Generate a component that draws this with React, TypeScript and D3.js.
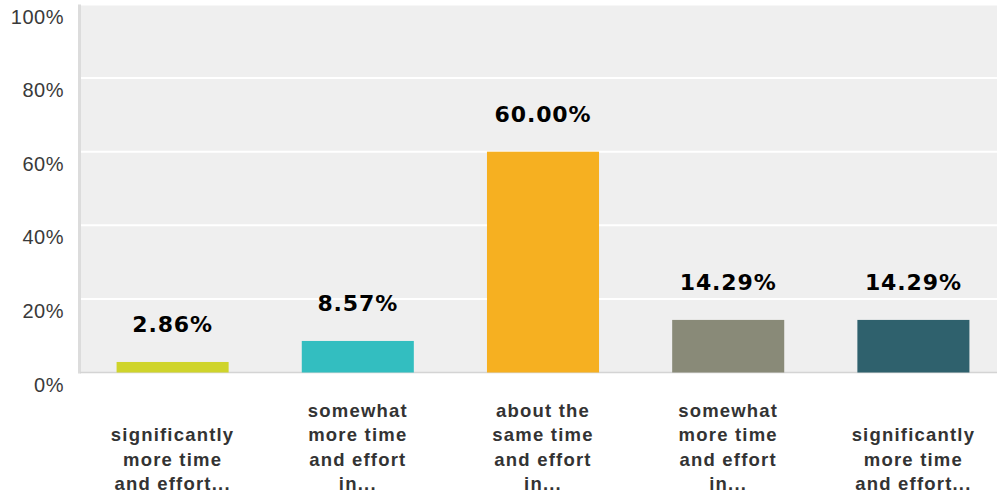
import React from "react";
import * as d3 from "d3";

const categories: string[][] = [
  ["significantly", "more time", "and effort..."],
  ["somewhat", "more time", "and effort", "in..."],
  ["about the", "same time", "and effort", "in..."],
  ["somewhat", "more time", "and effort", "in..."],
  ["significantly", "more time", "and effort..."],
];
const values: number[] = [2.86, 8.57, 60.0, 14.29, 14.29];
const colors: string[] = ["#cfd42b", "#33bec0", "#f6b021", "#898a78", "#2f616d"];
const yTicks: number[] = [0, 20, 40, 60, 80, 100];

const W = 997;
const H = 494;
const left = 80;
const top = 4.5;
const bottom = 372.5;

export default function App() {
  const x = d3
    .scaleBand<number>()
    .domain(values.map((_, i) => i))
    .range([left, left + 926])
    .paddingInner(0.395)
    .paddingOuter(0.1975);
  const y = d3.scaleLinear().domain([0, 100]).range([bottom, top]);

  return (
    <svg
      width={W}
      height={H}
      style={{ position: "absolute", left: 0, top: 0, background: "#fff" }}
    >
      <rect x={left} y={top} width={W - left} height={bottom - top} fill="#efefef" />
      {yTicks.slice(1).map((t) => (
        <line key={t} x1={left} x2={W} y1={y(t)} y2={y(t)} stroke="#fff" strokeWidth={2} />
      ))}
      <line x1={left - 0.5} x2={left - 0.5} y1={top} y2={bottom + 1} stroke="#dcdcdc" strokeWidth={3} />
      <line x1={left} x2={W} y1={bottom} y2={bottom} stroke="#d4d4d4" strokeWidth={1.5} />
      {yTicks.map((t) => (
        <text
          key={t}
          x={64}
          y={y(t) + 19}
          textAnchor="end"
          fontFamily="Liberation Sans, Arial, sans-serif"
          fontSize={20}
          fill="#3a3a3a"
          letterSpacing={0.5}
        >
          {t}%
        </text>
      ))}
      {values.map((v, i) => {
        const bx = x(i) as number;
        const bw = x.bandwidth();
        return (
          <g key={i}>
            <rect x={bx} y={y(v)} width={bw} height={bottom - y(v)} fill={colors[i]} />
            <text
              x={bx + bw / 2}
              y={y(v) - 30}
              textAnchor="middle"
              fontFamily="DejaVu Sans, Verdana, sans-serif"
              fontWeight="bold"
              fontSize={22}
              letterSpacing={0.9}
              fill="#000"
            >
              {v.toFixed(2)}%
            </text>
            {categories[i].map((line, j) => {
              const n = categories[i].length;
              return (
                <text
                  key={j}
                  x={bx + bw / 2}
                  y={490 - (n - 1 - j) * 24.5}
                  textAnchor="middle"
                  fontFamily="Liberation Sans, Arial, sans-serif"
                  fontWeight="bold"
                  fontSize={18.5}
                  letterSpacing={1.2}
                  fill="#333"
                >
                  {line}
                </text>
              );
            })}
          </g>
        );
      })}
    </svg>
  );
}
